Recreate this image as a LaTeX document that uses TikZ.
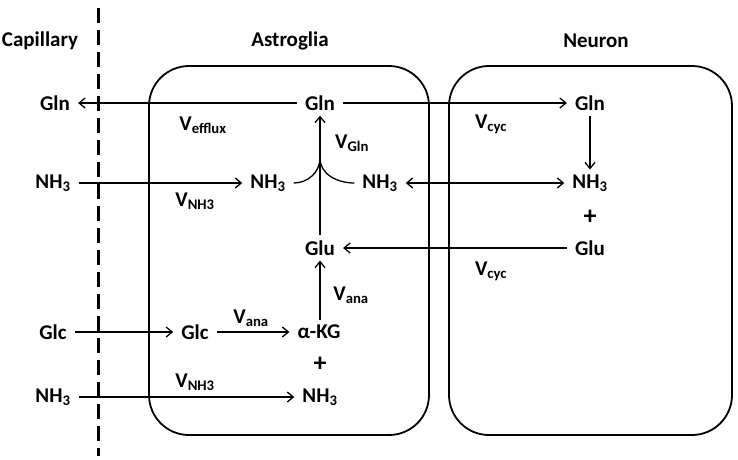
\documentclass[tikz,border=0pt]{standalone}
\usepackage{fontspec}
\setmainfont{Carlito}
\usetikzlibrary{arrows.meta, positioning, calc}

\begin{document}
\begin{tikzpicture}[
        x=1pt, y=-1pt,
        every node/.style={font=\fontsize{21}{24}\selectfont\bfseries},
        met/.style={inner xsep=8pt, inner ysep=5pt},
        rate/.style={inner sep=0pt},
        plus/.style={font=\fontsize{26}{28}\selectfont\bfseries, inner sep=0pt},
        cell/.style={draw, line width=1.8pt, rounded corners=40pt},
        arrow/.style={->, line width=1.3pt},
        >={Straight Barb[length=6pt, width=10pt]}
    ]
    \useasboundingbox (0,0) rectangle (738,459);

    % compartments
    \draw[line width=3pt, dash pattern=on 15pt off 7pt] (98,8) -- (98,456);
    \draw[cell] (149,66) rectangle (429,435);
    \draw[cell] (449,66) rectangle (732,435);

    \node (capTitle) at (40,41) {Capillary};
    \node (astTitle) at (290,41) {Astroglia};
    \node (neuTitle) at (596,41) {Neuron};

    % metabolites
    \node (capGln) [met] at (55,103) {Gln};
    \node (astGln) [met] at (320,103) {Gln};
    \node (neuGln) [met] at (590,103) {Gln};
    \node (capNH) [met] at (53,183) {NH\textsubscript{3}};
    \node (astNHl) [met] at (268,183) {NH\textsubscript{3}};
    \node (astNHr) [met] at (380,183) {NH\textsubscript{3}};
    \node (neuNH) [met] at (590,183) {NH\textsubscript{3}};
    \node (plusN) [plus] at (590,217) {+};
    \node (neuGlu) [met] at (590,248) {Glu};
    \node (astGlu) [met] at (320,248) {Glu};
    \node (capGlc) [met] at (53,332) {Glc};
    \node (astGlc) [met] at (195,332) {Glc};
    \node (aKG) [met] at (319,332) {α-KG};
    \node (plusA) [plus] at (320,364) {+};
    \node (capNHb) [met] at (53,397) {NH\textsubscript{3}};
    \node (astNHb) [met] at (320,397) {NH\textsubscript{3}};

    % rates
    \node (vEfflux) [rate] at (203,125) {V\textsubscript{efflux}};
    \node (vNHa) [rate] at (195,201) {V\textsubscript{NH3}};
    \node (vGln) [rate] at (352,143) {V\textsubscript{Gln}};
    \node (vCycA) [rate] at (491,124) {V\textsubscript{cyc}};
    \node (vCycB) [rate] at (491,271) {V\textsubscript{cyc}};
    \node (vAnaA) [rate] at (351,295) {V\textsubscript{ana}};
    \node (vAnaB) [rate] at (251,318) {V\textsubscript{ana}};
    \node (vNHb) [rate] at (195,382) {V\textsubscript{NH3}};

    \coordinate (join) at (320,158);

    \draw[arrow] (astGln) -- (capGln);
    \draw[arrow] (astGln) -- (neuGln);
    \draw[arrow] (neuGln) -- (neuNH);
    \draw[arrow] (capNH) -- (astNHl);
    \draw[<->, line width=1.3pt] (astNHr) -- (neuNH);
    \draw[arrow] (neuGlu) -- (astGlu);
    \draw[arrow] (astGlu) -- (astGln);
    \draw[line width=1.3pt] (astNHl.east) to[out=0, in=-90] (join);
    \draw[line width=1.3pt] (astNHr.west) to[out=180, in=-90] (join);
    \draw[arrow] (aKG.north -| astGlu.south) -- (astGlu);
    \draw[arrow] (capGlc) -- (astGlc);
    \draw[arrow] (astGlc) -- (aKG);
    \draw[arrow] (capNHb) -- (astNHb);

\end{tikzpicture}
\end{document}
